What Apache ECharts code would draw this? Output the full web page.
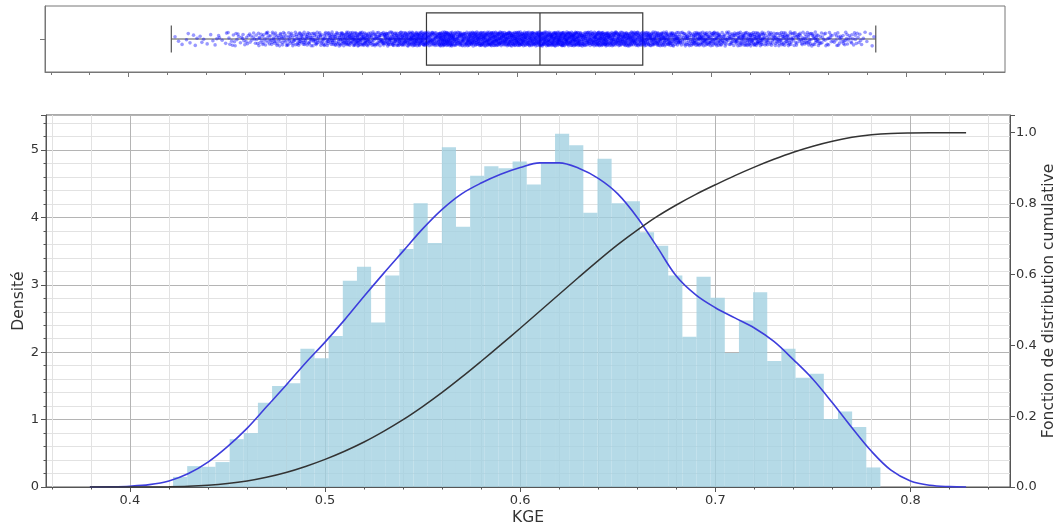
<!DOCTYPE html>
<html><head><meta charset="utf-8">
<script src="https://cdn.jsdelivr.net/npm/echarts@6/dist/echarts.min.js"></script>
<style>html,body{margin:0;padding:0;background:#fff}#c{width:1059px;height:526px}</style>
</head><body><div id="c"></div>
<script>
// ---- data ----
const binStart = 0.4221, binEnd = 0.7846;
const histDensity = [0.15,0.31,0.30,0.37,0.71,0.80,1.25,1.50,1.54,2.05,
  1.91,2.24,3.06,3.27,2.44,3.14,3.53,4.21,3.62,5.04,
  3.86,4.62,4.76,4.73,4.83,4.49,4.82,5.24,5.07,4.07,
  4.87,4.21,4.24,3.78,3.58,3.14,2.23,3.12,2.81,1.99,
  2.47,2.89,1.87,2.05,1.62,1.68,1.01,1.12,0.89,0.29];
const kdeX = [0.3795,0.39,0.40,0.41,0.42,0.43,0.44,0.45,0.46,0.47,0.48,0.49,0.50,0.51,0.52,0.53,0.54,0.55,0.56,0.57,0.58,0.59,0.60,0.61,0.62,0.63,0.64,0.65,0.66,0.67,0.68,0.69,0.70,0.71,0.72,0.73,0.74,0.75,0.76,0.77,0.78,0.79,0.80,0.81,0.82,0.8285];
const kdeY = [0,0.003,0.012,0.035,0.09,0.20,0.37,0.60,0.87,1.19,1.51,1.84,2.15,2.48,2.83,3.17,3.50,3.83,4.12,4.35,4.51,4.64,4.74,4.81,4.81,4.73,4.58,4.35,4.00,3.57,3.13,2.85,2.66,2.51,2.36,2.16,1.89,1.60,1.25,0.88,0.53,0.25,0.09,0.025,0.005,0];
const cdfX = [0.3795,0.39,0.40,0.41,0.42,0.43,0.44,0.45,0.46,0.47,0.48,0.49,0.50,0.51,0.52,0.53,0.54,0.55,0.56,0.57,0.58,0.59,0.60,0.61,0.62,0.63,0.64,0.65,0.66,0.67,0.68,0.69,0.70,0.71,0.72,0.73,0.74,0.75,0.76,0.77,0.78,0.79,0.80,0.81,0.82,0.8285];
const cdfY = [0,0,0.00005,0.0002,0.0006,0.0019,0.0048,0.0097,0.017,0.0275,0.041,0.058,0.078,0.101,0.127,0.157,0.190,0.227,0.267,0.310,0.355,0.401,0.448,0.496,0.544,0.592,0.639,0.684,0.725,0.763,0.796,0.826,0.853,0.879,0.903,0.925,0.945,0.962,0.976,0.987,0.994,0.998,0.9995,1.0,1.0,1.0];
const boxStats = [0.422, 0.5533, 0.6117, 0.6646, 0.7845]; // whisker low, Q1, median, Q3, whisker high
const sampleCount = 2760;
const xMajorTicks = [0.4,0.5,0.6,0.7,0.8];
const xMinorTicks = [0.36,0.38,0.40,0.42,0.44,0.46,0.48,0.50,0.52,0.54,0.56,0.58,0.60,0.62,0.64,0.66,0.68,0.70,0.72,0.74,0.76,0.78,0.80,0.82,0.84];
const xRange = [0.357, 0.851];
const yLeftMax = 5.52, yRightMax = 1.05;

// ---- build ----
const binW = (binEnd - binStart) / histDensity.length;
const histData = histDensity.map((d, i) => [binStart + i * binW, binStart + (i + 1) * binW, d]);
const kdeData = kdeX.map((x, i) => [x, kdeY[i]]);
const cdfData = cdfX.map((x, i) => [x, cdfY[i]]);
// strip plot: the sample shown by the histogram, one dot per observation, with a deterministic (Halton) jitter
function halton(i, b) { let f = 1, r = 0; while (i > 0) { f /= b; r += f * (i % b); i = Math.floor(i / b); } return r; }
const stripData = [];
let g = 0;
histDensity.forEach((d, i) => {
  const n = Math.round(d * binW * sampleCount);
  for (let k = 0; k < n; k++) {
    g++;
    const fx = halton(k + 1 + i * 7, 2);
    const jit = halton(g, 3) - 0.5;
    stripData.push([binStart + (i + fx) * binW, jit * 0.42]);
  }
});

const FONT = 'DejaVu Sans';
const axisCol = '#555';
const nameStyle = {color: '#333', fontSize: 15.5, fontFamily: FONT};
const chart = echarts.init(document.getElementById('c'), null, {renderer: 'canvas'});
chart.setOption({
  animation: false,
  textStyle: {fontFamily: FONT},
  grid: [
    {left: 45, right: 54, top: 6, height: 66, show: true, borderColor: '#777', borderWidth: 1, backgroundColor: '#fff', containLabel: false, outerBoundsMode: 'none'},
    {left: 46, right: 49, top: 115, height: 372, show: true, borderColor: axisCol, borderWidth: 1, backgroundColor: '#fff', containLabel: false, outerBoundsMode: 'none'}
  ],
  xAxis: [
    {gridIndex: 0, type: 'value', position: 'bottom', min: xRange[0], max: xRange[1],
     axisLine: {show: true, onZero: false, lineStyle: {color: '#777'}},
     axisTick: {show: true, customValues: xMinorTicks, length: 3, lineStyle: {color: '#777'}},
     axisLabel: {show: false}, splitLine: {show: false}},
    {gridIndex: 0, type: 'value', position: 'bottom', min: xRange[0], max: xRange[1],
     axisLine: {show: false, onZero: false},
     axisTick: {show: true, customValues: xMajorTicks, length: 5, lineStyle: {color: '#777'}},
     axisLabel: {show: false}, splitLine: {show: false}},
    {gridIndex: 1, type: 'value', position: 'bottom', min: xRange[0], max: xRange[1],
     axisLine: {show: false, onZero: false},
     axisTick: {show: true, customValues: xMinorTicks, length: 2.5, lineStyle: {color: axisCol}},
     axisLabel: {show: false},
     splitLine: {show: true, lineStyle: {color: '#e2e2e2', width: 1}}},
    {gridIndex: 1, type: 'value', position: 'bottom', min: xRange[0], max: xRange[1],
     axisLine: {show: true, onZero: false, lineStyle: {color: axisCol}},
     axisTick: {show: true, customValues: xMajorTicks, length: 5, lineStyle: {color: axisCol}},
     axisLabel: {show: true, customValues: xMajorTicks, color: '#333', fontSize: 13, margin: 7, formatter: v => v.toFixed(1)},
     splitLine: {show: true, lineStyle: {color: '#b4b4b4', width: 1}},
     name: 'KGE', nameLocation: 'middle', nameGap: 22.5, nameMoveOverlap: false, nameTextStyle: nameStyle}
  ],
  yAxis: [
    {gridIndex: 0, type: 'value', position: 'left', min: -1, max: 1,
     axisLine: {show: true, onZero: false, lineStyle: {color: '#777'}},
     axisTick: {show: true, customValues: [0], length: 5, lineStyle: {color: '#777'}},
     axisLabel: {show: false}, splitLine: {show: false}},
    {gridIndex: 1, type: 'value', position: 'left', min: 0, max: yLeftMax, interval: 0.2,
     axisLine: {show: false, onZero: false},
     axisTick: {show: true, length: 2.5, lineStyle: {color: axisCol}},
     axisLabel: {show: false},
     splitLine: {show: true, lineStyle: {color: '#e2e2e2', width: 1}}},
    {gridIndex: 1, type: 'value', position: 'left', min: 0, max: yLeftMax, interval: 1,
     axisLine: {show: true, onZero: false, lineStyle: {color: axisCol}},
     axisTick: {show: true, length: 5, lineStyle: {color: axisCol}},
     axisLabel: {show: true, color: '#333', fontSize: 13, margin: 7, formatter: v => (Math.abs(v - Math.round(v)) < 1e-6 ? String(Math.round(v)) : '')},
     splitLine: {show: true, lineStyle: {color: '#b4b4b4', width: 1}},
     name: 'Densité', nameLocation: 'middle', nameGap: 19, nameRotate: 90, nameMoveOverlap: false, nameTextStyle: nameStyle},
    {gridIndex: 1, type: 'value', position: 'right', min: 0, max: yRightMax, interval: 0.2,
     axisLine: {show: true, onZero: false, lineStyle: {color: axisCol}},
     axisTick: {show: true, length: 5, lineStyle: {color: axisCol}},
     axisLabel: {show: true, color: '#333', fontSize: 13, margin: 6, formatter: v => (v > 1.001 ? '' : v.toFixed(1))},
     splitLine: {show: false},
     name: 'Fonction de distribution cumulative', nameLocation: 'middle', nameGap: 31, nameRotate: 90, nameMoveOverlap: false, nameTextStyle: nameStyle}
  ],
  series: [
    {type: 'custom', xAxisIndex: 3, yAxisIndex: 2, data: histData, encode: {x: [0, 1], y: 2}, z: 2,
     renderItem: (params, api) => {
       const p0 = api.coord([api.value(0), api.value(2)]);
       const p1 = api.coord([api.value(1), 0]);
       return {type: 'rect', shape: {x: p0[0], y: p0[1], width: p1[0] - p0[0], height: p1[1] - p0[1]},
               style: {fill: 'rgba(160,208,224,0.78)'}};
     }},
    {type: 'line', xAxisIndex: 3, yAxisIndex: 2, data: kdeData, smooth: 0.35, showSymbol: false, z: 4,
     lineStyle: {color: '#3d3ddc', width: 1.6}},
    {type: 'line', xAxisIndex: 3, yAxisIndex: 3, data: cdfData, smooth: 0.35, showSymbol: false, z: 4,
     lineStyle: {color: '#333333', width: 1.5}},
    {type: 'custom', xAxisIndex: 0, yAxisIndex: 0, data: [boxStats], encode: {x: [0, 1, 2, 3, 4]}, z: 2,
     renderItem: (params, api) => {
       const v = [0, 1, 2, 3, 4].map(i => api.value(i));
       const c = (x, y) => api.coord([x, y]);
       const lo = c(v[0], 0), q1t = c(v[1], 0.79), q3b = c(v[3], -0.79), mid = c(v[1], 0), q3m = c(v[3], 0), hi = c(v[4], 0);
       const capT = c(v[0], 0.41)[1], capB = c(v[0], -0.41)[1];
       const medT = c(v[2], 0.79), medB = c(v[2], -0.79);
       const wS = {stroke: '#555', lineWidth: 1.2};
       const bS = {stroke: '#3a3a3a', lineWidth: 1.2, fill: 'transparent'};
       return {type: 'group', children: [
         {type: 'line', shape: {x1: lo[0], y1: lo[1], x2: mid[0], y2: mid[1]}, style: wS},
         {type: 'line', shape: {x1: q3m[0], y1: q3m[1], x2: hi[0], y2: hi[1]}, style: wS},
         {type: 'line', shape: {x1: lo[0], y1: capT, x2: lo[0], y2: capB}, style: wS},
         {type: 'line', shape: {x1: hi[0], y1: capT, x2: hi[0], y2: capB}, style: wS},
         {type: 'rect', shape: {x: q1t[0], y: q1t[1], width: q3b[0] - q1t[0], height: q3b[1] - q1t[1]}, style: bS},
         {type: 'line', shape: {x1: medT[0], y1: medT[1], x2: medB[0], y2: medB[1]}, style: bS}
       ]};
     }},
    {type: 'scatter', xAxisIndex: 0, yAxisIndex: 0, data: stripData, symbolSize: 3.6, z: 5,
     itemStyle: {color: 'rgba(0,0,255,0.5)'}, silent: true}
  ]
});
</script></body></html>
